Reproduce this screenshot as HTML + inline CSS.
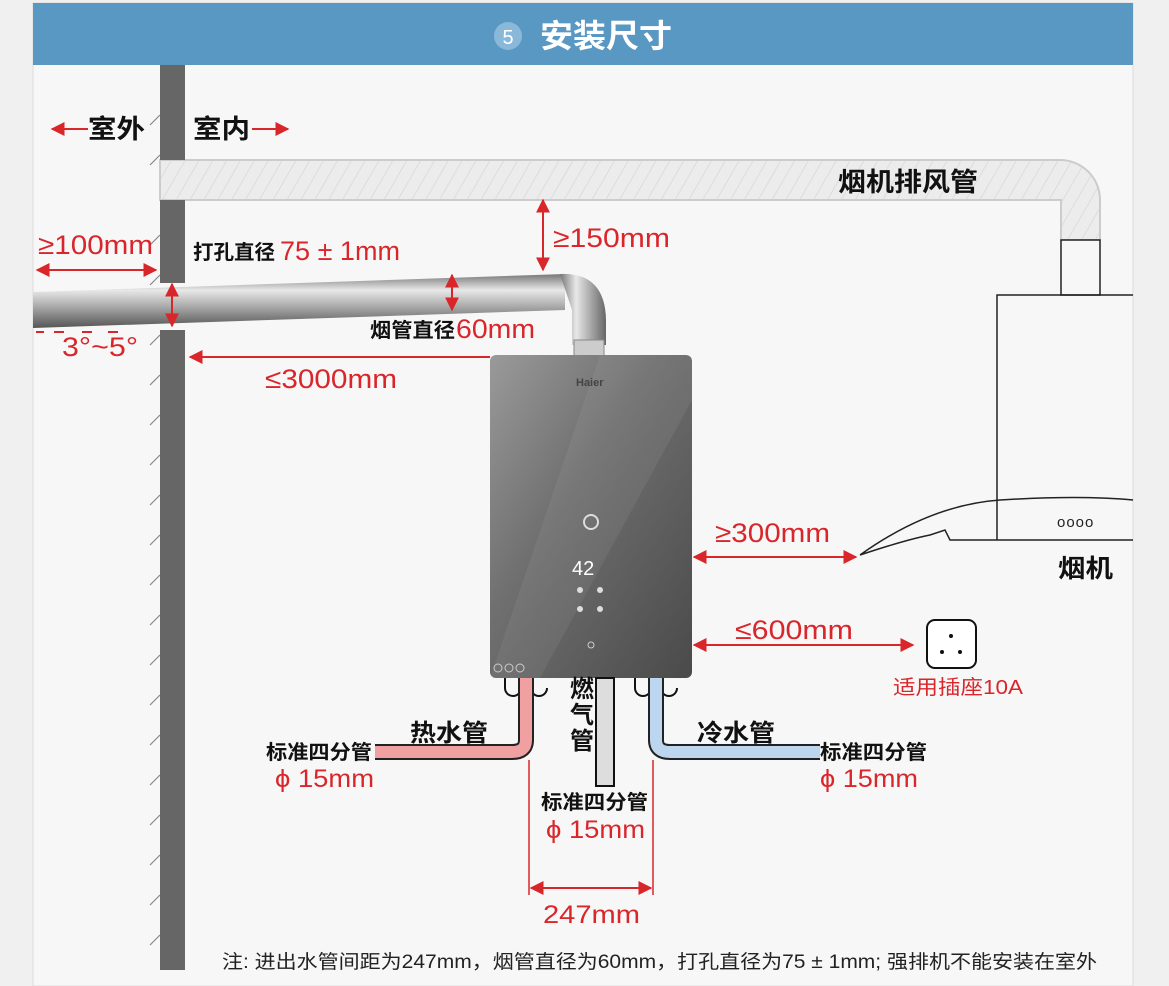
<!DOCTYPE html>
<html><head><meta charset="utf-8"><style>
html,body{margin:0;padding:0;background:#f0f0f0;}
svg{display:block;}
text{font-family:"Liberation Sans","Noto Sans CJK SC",sans-serif;}
</style></head><body>
<svg width="1169" height="986" viewBox="0 0 1169 986" xmlns="http://www.w3.org/2000/svg">
<defs>
<marker id="a" viewBox="0 0 10 10" refX="9" refY="5" markerWidth="7" markerHeight="7" orient="auto-start-reverse"><path d="M0,0 L10,5 L0,10 z" fill="#d9262b"/></marker>
<pattern id="h" width="12" height="12" patternUnits="userSpaceOnUse" patternTransform="rotate(30)"><rect width="12" height="12" fill="#ececec"/><line x1="0" y1="0" x2="0" y2="12" stroke="#dcdcdc" stroke-width="2"/></pattern>
<linearGradient id="pipe" x1="0" y1="0" x2="0" y2="1"><stop offset="0" stop-color="#777"/><stop offset=".3" stop-color="#e8e8e8"/><stop offset=".6" stop-color="#aaa"/><stop offset="1" stop-color="#555"/></linearGradient>
<linearGradient id="pipev" x1="0" y1="0" x2="1" y2="0"><stop offset="0" stop-color="#777"/><stop offset=".35" stop-color="#e8e8e8"/><stop offset="1" stop-color="#666"/></linearGradient>
<linearGradient id="body" x1="0" y1="0" x2="1" y2="1"><stop offset="0" stop-color="#9a9a9a"/><stop offset=".4" stop-color="#707070"/><stop offset="1" stop-color="#4a4a4a"/></linearGradient>
</defs>
<rect x="0" y="0" width="1169" height="986" fill="#f0f0f0"/>
<rect x="33" y="3" width="1100" height="983" fill="#f7f7f7" stroke="#ddd"/>
<rect x="33" y="3" width="1100" height="62" fill="#5a98c4"/>
<circle cx="508" cy="36" r="14" fill="#8ab8d8"/>
<text x="508" y="44" font-size="20" fill="#fff" text-anchor="middle">5</text>
<text x="540" y="47" font-size="32" fill="#fff" font-weight="bold" textLength="132" lengthAdjust="spacingAndGlyphs">安装尺寸</text>

<!-- duct -->
<path d="M160,160 H1060 A40,40 0 0 1 1100,200 V240 H1061 V200 Q1061,200 1060,200 H160 Z" fill="url(#h)" stroke="#ccc" stroke-width="2"/>
<rect x="1061" y="240" width="39" height="55" fill="#f7f7f7" stroke="#222" stroke-width="1.5"/>
<path d="M997,540 V295 H1133" fill="none" stroke="#222" stroke-width="1.5"/>
<path d="M860,555 Q930,505 1000,500 Q1080,495 1133,500 M860,555 Q905,540 930,535 L945,530 L950,540 H1133" fill="none" stroke="#222" stroke-width="1.5"/>
<text x="1057" y="527" font-size="15" fill="#222" letter-spacing="1">oooo</text>
<text x="1058" y="577" font-size="25" fill="#111" font-weight="bold" textLength="55" lengthAdjust="spacingAndGlyphs">烟机</text>
<text x="838" y="191" font-size="26" fill="#111" font-weight="bold" textLength="140" lengthAdjust="spacingAndGlyphs">烟机排风管</text>

<!-- wall -->
<rect x="160" y="65" width="25" height="95" fill="#666"/>
<rect x="160" y="200" width="25" height="83" fill="#666"/>
<rect x="160" y="330" width="25" height="640" fill="#666"/>
<g stroke="#888" stroke-width="1.2">
<path d="M150,125 l10,-10 M150,165 l10,-10 M150,245 l10,-10 M150,285 l10,-10 M150,345 l10,-10 M150,385 l10,-10 M150,425 l10,-10 M150,465 l10,-10 M150,505 l10,-10 M150,545 l10,-10 M150,585 l10,-10 M150,625 l10,-10 M150,665 l10,-10 M150,705 l10,-10 M150,745 l10,-10 M150,785 l10,-10 M150,825 l10,-10 M150,865 l10,-10 M150,905 l10,-10 M150,945 l10,-10"/>
</g>
<text x="88" y="138" font-size="26" fill="#111" font-weight="bold" textLength="57" lengthAdjust="spacingAndGlyphs">室外</text>
<line x1="88" y1="129" x2="52" y2="129" stroke="#d9262b" stroke-width="2" marker-end="url(#a)"/>
<text x="193" y="138" font-size="26" fill="#111" font-weight="bold" textLength="57" lengthAdjust="spacingAndGlyphs">室内</text>
<line x1="252" y1="129" x2="288" y2="129" stroke="#d9262b" stroke-width="2" marker-end="url(#a)"/>

<!-- flue pipe -->
<path d="M33,292 L565,274 L565,310 L33,328 Z" fill="url(#pipe)"/>
<path d="M560,274 Q605,272 606,320 V345 H572 V310 Z" fill="url(#pipev)"/>
<rect x="574" y="340" width="30" height="16" fill="#ccc" stroke="#888"/>

<text x="38" y="254" font-size="27" fill="#d9262b" textLength="115" lengthAdjust="spacingAndGlyphs">≥100mm</text>
<line x1="37" y1="270" x2="156" y2="270" stroke="#d9262b" stroke-width="2" marker-start="url(#a)" marker-end="url(#a)"/>
<text x="193" y="259" font-size="20" fill="#111" font-weight="bold" textLength="82" lengthAdjust="spacingAndGlyphs">打孔直径</text>
<text x="280" y="260" font-size="27" fill="#d9262b" textLength="120" lengthAdjust="spacingAndGlyphs">75 ± 1mm</text>
<line x1="172" y1="284" x2="172" y2="326" stroke="#d9262b" stroke-width="2" marker-start="url(#a)" marker-end="url(#a)"/>
<line x1="452" y1="275" x2="452" y2="310" stroke="#d9262b" stroke-width="2" marker-start="url(#a)" marker-end="url(#a)"/>
<line x1="543" y1="200" x2="543" y2="270" stroke="#d9262b" stroke-width="2" marker-start="url(#a)" marker-end="url(#a)"/>
<text x="553" y="247" font-size="27" fill="#d9262b" textLength="117" lengthAdjust="spacingAndGlyphs">≥150mm</text>
<text x="370" y="337" font-size="20" fill="#111" font-weight="bold" textLength="85" lengthAdjust="spacingAndGlyphs">烟管直径</text>
<text x="456" y="338" font-size="27" fill="#d9262b" textLength="79" lengthAdjust="spacingAndGlyphs">60mm</text>
<path d="M36,332 h8 M54,332 h10 M82,332 h10 M108,332 h10" stroke="#d9262b" stroke-width="2"/>
<text x="62" y="356" font-size="27" fill="#d9262b" textLength="76" lengthAdjust="spacingAndGlyphs">3°~5°</text>
<line x1="490" y1="357" x2="190" y2="357" stroke="#d9262b" stroke-width="2" marker-end="url(#a)"/>
<text x="265" y="388" font-size="27" fill="#d9262b" textLength="132" lengthAdjust="spacingAndGlyphs">≤3000mm</text>

<!-- heater -->
<rect x="490" y="355" width="202" height="323" rx="6" fill="url(#body)"/>
<path d="M600,355 L692,355 L692,400 L540,678 L490,678 Z" fill="#fff" opacity=".06"/>
<text x="576" y="386" font-size="11" fill="#444" font-weight="bold">Haier</text>
<circle cx="591" cy="522" r="7" fill="none" stroke="#ddd" stroke-width="2"/>
<text x="572" y="575" font-size="20" fill="#fff" font-family="Liberation Mono">42</text>
<g fill="#ddd"><circle cx="580" cy="590" r="3"/><circle cx="600" cy="590" r="3"/><circle cx="580" cy="609" r="3"/><circle cx="600" cy="609" r="3"/></g>
<circle cx="591" cy="645" r="3" fill="none" stroke="#ccc"/>
<g fill="none" stroke="#ccc"><circle cx="498" cy="668" r="4"/><circle cx="509" cy="668" r="4"/><circle cx="520" cy="668" r="4"/></g>

<!-- pipes bottom -->
<path d="M505,678 v10 a8,8 0 0 0 16,0 M531,678 v10 a8,8 0 0 0 16,0 M635,678 v10 a8,8 0 0 0 16,0 M661,678 v10 a8,8 0 0 0 16,0" fill="none" stroke="#111" stroke-width="2"/>
<path d="M526,678 V740 Q526,752 512,752 H375" fill="none" stroke="#222" stroke-width="16"/>
<path d="M526,678 V740 Q526,752 512,752 H375" fill="none" stroke="#f0a0a0" stroke-width="12"/>
<path d="M656,678 V740 Q656,752 670,752 H820" fill="none" stroke="#222" stroke-width="16"/>
<path d="M656,678 V740 Q656,752 670,752 H820" fill="none" stroke="#bcd6ef" stroke-width="12"/>
<rect x="596" y="678" width="18" height="108" fill="#ddd" stroke="#111" stroke-width="2"/>
<text x="570" y="697" font-size="24" fill="#111" font-weight="bold">燃</text>
<text x="570" y="723" font-size="24" fill="#111" font-weight="bold">气</text>
<text x="570" y="749" font-size="24" fill="#111" font-weight="bold">管</text>
<text x="410" y="741" font-size="24" fill="#111" font-weight="bold" textLength="78" lengthAdjust="spacingAndGlyphs">热水管</text>
<text x="697" y="741" font-size="24" fill="#111" font-weight="bold" textLength="78" lengthAdjust="spacingAndGlyphs">冷水管</text>
<text x="266" y="759" font-size="20" fill="#111" font-weight="bold" textLength="106" lengthAdjust="spacingAndGlyphs">标准四分管</text>
<text x="275" y="787" font-size="25" fill="#d9262b" textLength="99" lengthAdjust="spacingAndGlyphs">ϕ 15mm</text>
<text x="820" y="759" font-size="20" fill="#111" font-weight="bold" textLength="107" lengthAdjust="spacingAndGlyphs">标准四分管</text>
<text x="820" y="787" font-size="25" fill="#d9262b" textLength="98" lengthAdjust="spacingAndGlyphs">ϕ 15mm</text>
<text x="541" y="809" font-size="20" fill="#111" font-weight="bold" textLength="107" lengthAdjust="spacingAndGlyphs">标准四分管</text>
<text x="546" y="838" font-size="25" fill="#d9262b" textLength="99" lengthAdjust="spacingAndGlyphs">ϕ 15mm</text>
<line x1="529" y1="760" x2="529" y2="895" stroke="#d9262b" stroke-width="1.5"/>
<line x1="653" y1="760" x2="653" y2="895" stroke="#d9262b" stroke-width="1.5"/>
<line x1="531" y1="888" x2="651" y2="888" stroke="#d9262b" stroke-width="2" marker-start="url(#a)" marker-end="url(#a)"/>
<text x="543" y="923" font-size="25" fill="#d9262b" textLength="97" lengthAdjust="spacingAndGlyphs">247mm</text>

<!-- right dims -->
<line x1="694" y1="557" x2="856" y2="557" stroke="#d9262b" stroke-width="2" marker-start="url(#a)" marker-end="url(#a)"/>
<text x="715" y="542" font-size="27" fill="#d9262b" textLength="115" lengthAdjust="spacingAndGlyphs">≥300mm</text>
<line x1="694" y1="645" x2="913" y2="645" stroke="#d9262b" stroke-width="2" marker-start="url(#a)" marker-end="url(#a)"/>
<text x="735" y="639" font-size="27" fill="#d9262b" textLength="118" lengthAdjust="spacingAndGlyphs">≤600mm</text>
<rect x="927" y="620" width="49" height="48" rx="8" fill="#fff" stroke="#111" stroke-width="2"/>
<circle cx="951" cy="636" r="2" fill="#111"/><circle cx="942" cy="652" r="2" fill="#111"/><circle cx="960" cy="652" r="2" fill="#111"/>
<text x="893" y="694" font-size="20" fill="#d9262b" textLength="130" lengthAdjust="spacingAndGlyphs">适用插座10A</text>

<text x="222" y="968" font-size="19" fill="#222" textLength="875" lengthAdjust="spacingAndGlyphs">注: 进出水管间距为247mm，烟管直径为60mm，打孔直径为75 ± 1mm; 强排机不能安装在室外</text>
</svg>
</body></html>
